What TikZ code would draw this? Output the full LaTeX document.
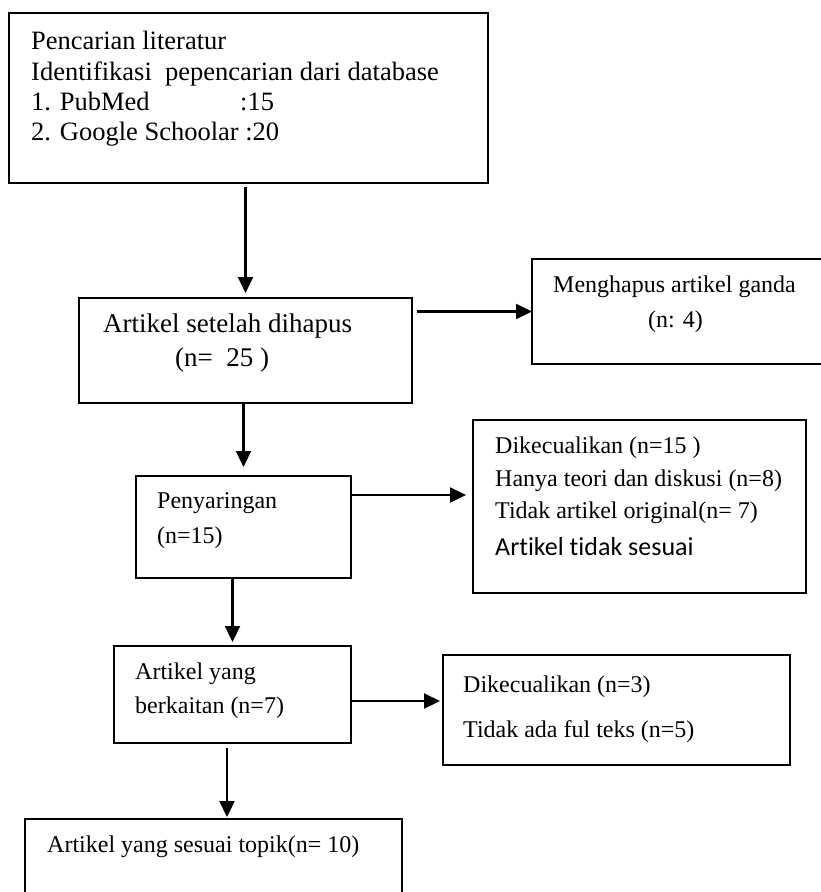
\documentclass[tikz,border=0pt]{standalone}
\usepackage{fontspec}
\setmainfont{Liberation Serif}
\newfontfamily\carlito[Ligatures=NoCommon]{Carlito}
\usetikzlibrary{arrows.meta,calc}
\begin{document}
\begin{tikzpicture}[x=1pt,y=-1pt,
  box/.style={draw,line width=1.8pt,inner sep=0pt,outer sep=0pt,anchor=north west},
  arr/.style={line width=2.2pt,-{Triangle[length=16pt,width=15pt]}},
  txt/.style={anchor=base west,inner sep=0pt,font=\fontsize{24}{28}\selectfont}]
\clip (0,0) rectangle (821,892);
\fill[white] (0,0) rectangle (821,892);
% boxes
\node[box,minimum width=479pt,minimum height=170pt] (b1) at (9,13) {};
\node[box,minimum width=333pt,minimum height=105pt] (b2) at (79,298) {};
\node[box,minimum width=294pt,minimum height=105pt] (m) at (532,259) {};
\node[box,minimum width=215pt,minimum height=102pt] (p) at (136,476) {};
\node[box,minimum width=333pt,minimum height=173pt] (d15) at (473,420) {};
\node[box,minimum width=237pt,minimum height=97pt] (ay) at (114,646) {};
\node[box,minimum width=347pt,minimum height=110pt] (d3) at (443,655) {};
\node[box,minimum width=377pt,minimum height=110pt] (last) at (25,819) {};
% texts
\node[txt,font=\fontsize{26.5}{30}\selectfont] (t1a) at (31,49) {Pencarian literatur};
\node[txt,font=\fontsize{26.5}{30}\selectfont] (t1b) at (31,80) {Identifikasi\ \ pepencarian dari database};
\node[txt,font=\fontsize{26.5}{30}\selectfont] (t1c) at (31,110) {\makebox[209pt][l]{1. PubMed}:15};
\node[txt,font=\fontsize{26.5}{30}\selectfont] (t1d) at (31,140) {2. Google Schoolar :20};
\node[txt,font=\fontsize{27}{30}\selectfont] (t2a) at (103,332) {Artikel setelah dihapus};
\node[txt,font=\fontsize{27}{30}\selectfont] (t2b) at (175,366) {(n=\ \ 25 )};
\node[txt] (tma) at (553,292) {Menghapus artikel ganda};
\node[txt] (tmb) at (648,327) {(n: 4)};
\node[txt] (tpa) at (157,508) {Penyaringan};
\node[txt] (tpb) at (157,543) {(n=15)};
\node[txt] (tda) at (495,453) {Dikecualikan (n=15 )};
\node[txt] (tdb) at (495,486) {Hanya teori dan diskusi (n=8)};
\node[txt] (tdc) at (495,518) {Tidak artikel original(n= 7)};
\node[txt,font=\carlito\fontsize{26}{30}\selectfont] (tdd) at (495,555) {Artikel tidak sesuai};
\node[txt] (taa) at (135,679) {Artikel yang};
\node[txt] (tab) at (135,713) {berkaitan (n=7)};
\node[txt] (tea) at (463,692) {Dikecualikan (n=3)};
\node[txt] (teb) at (463,737) {Tidak ada ful teks (n=5)};
\node[txt] (tl) at (47,852) {Artikel yang sesuai topik(n= 10)};
% connectors
\draw[arr] ($(b1.south -| b2.north)+(0,4)$) -- ($(b2.north)+(0,-5)$);
\draw[arr] ($(b2.east |- m.west)+(5,0)$) -- (m.west);
\draw[arr] (b2.south -| p.north) -- ($(p.north)+(0,-9)$);
\coordinate (pe) at ($(p.north east)+(0,19)$);
\draw[arr] (pe) -- ($(pe -| d15.west)+(-7,0)$);
\draw[arr] (p.south -| ay.north) -- ($(ay.north)+(0,-4)$);
\coordinate (ae) at ($(ay.east)+(0,6.5)$);
\draw[arr] (ae) -- ($(ae -| d3.west)+(-3,0)$);
\coordinate (as) at ($(ay.south)+(-5.5,5)$);
\draw[arr] (as) -- ($(as |- last.north)+(0,-2)$);
\end{tikzpicture}
\end{document}
